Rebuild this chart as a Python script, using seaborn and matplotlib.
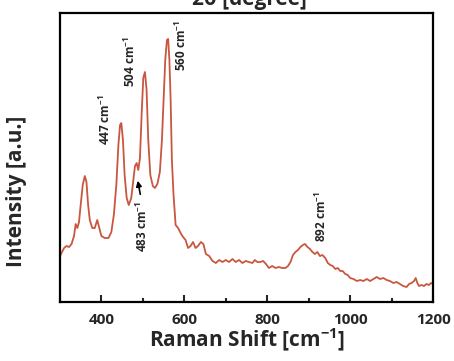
import matplotlib
matplotlib.use('Agg')
import matplotlib.pyplot as plt
import pandas as pd
import seaborn as sns
from matplotlib.ticker import MultipleLocator

# Raman shift (cm-1) and intensity (a.u.)
shift = [300, 305, 310, 316, 322, 328, 334, 338, 342, 346, 350, 355, 360, 364, 368,
         372, 378, 384, 390, 395, 400, 408, 417, 424, 430, 436, 441, 445, 448, 452,
         456, 461, 466, 472, 477, 481, 485, 489, 493, 497, 501, 505, 509, 513, 518,
         524, 529, 535, 541, 546, 550, 554, 558, 561, 564, 567, 570, 574, 579, 585,
         591, 597, 603, 609, 615, 621, 627, 633, 640, 646, 652, 660, 668, 676, 684,
         692, 700, 708, 716, 724, 732, 740, 748, 756, 764, 770, 776, 783, 790, 797,
         804, 812, 820, 828, 836, 844, 850, 856, 862, 868, 874, 880, 886, 891, 897,
         903, 909, 915, 921, 927, 933, 940, 946, 952, 958, 964, 970, 976, 982, 988,
         994, 1000, 1008, 1016, 1024, 1032, 1040, 1048, 1056, 1064, 1072, 1080, 1088,
         1096, 1104, 1112, 1120, 1128, 1136, 1142, 1148, 1154, 1158, 1162, 1166, 1172,
         1178, 1184, 1190, 1195, 1200]
intensity = [46, 50, 54, 56, 55, 58, 66, 78, 74, 80, 97, 117, 126, 120, 97,
             82, 74, 74, 82, 74, 66, 64, 64, 70, 87, 117, 157, 177, 179, 162,
             127, 104, 97, 104, 122, 136, 139, 132, 144, 187, 224, 230, 212, 162, 127,
             116, 114, 118, 130, 162, 202, 242, 262, 263, 242, 202, 142, 107, 77, 74,
             69, 65, 62, 54, 56, 60, 54, 56, 60, 58, 48, 46, 41, 39, 42,
             40, 42, 40, 43, 40, 42, 39, 41, 40, 39, 42, 40, 40, 41, 38,
             34, 36, 34, 35, 34, 34, 36, 40, 47, 50, 52, 55, 57, 58, 55,
             53, 50, 48, 50, 46, 47, 44, 39, 37, 36, 33, 34, 31, 31, 28,
             27, 24, 23, 21, 22, 21, 23, 21, 23, 25, 23, 24, 22,
             21, 19, 20, 18, 16, 15, 18, 19, 21, 24, 19, 16, 17,
             16, 18, 17, 19, 18]

# peak labels: text, x, y
peak_labels = ['447 cm$^{-1}$', '504 cm$^{-1}$', '560 cm$^{-1}$', '483 cm$^{-1}$', '892 cm$^{-1}$']
label_x = [409, 471, 592, 498, 930]
label_y = [182, 240, 256, 75, 85]

df = pd.DataFrame({'shift': shift, 'intensity': intensity})

sns.set_style('ticks')
plt.rcParams['font.family'] = ['Open Sans', 'DejaVu Sans']
plt.rcParams['mathtext.fontset'] = 'custom'
plt.rcParams['mathtext.rm'] = 'Open Sans'
plt.rcParams['mathtext.default'] = 'regular'

fig = plt.figure(figsize=(4.54, 3.61), dpi=100)
ax = fig.add_axes([0.132, 0.1634, 0.822, 0.8006])

sns.lineplot(data=df, x='shift', y='intensity', ax=ax, color='#c9563f', linewidth=1.3, sort=False)

ax.set_xlim(300, 1200)
ax.set_ylim(0, 289)
ax.set_yticks([])
ax.xaxis.set_major_locator(MultipleLocator(200))
ax.xaxis.set_minor_locator(MultipleLocator(100))
ax.tick_params(axis='x', which='major', direction='in', length=5, width=1.5, labelsize=11, pad=8)
ax.tick_params(axis='x', which='minor', direction='in', length=3, width=1.5)
for t in ax.get_xticklabels():
    t.set_fontweight('bold')
for sp in ax.spines.values():
    sp.set_linewidth(1.6)
    sp.set_color('black')

ax.set_xlabel('Raman Shift [cm$^{-1}$]', fontsize=15, fontweight='bold', labelpad=0)
ax.set_ylabel('')
fig.text(0.037, 0.47, 'Intensity [a.u.]', rotation=90, fontsize=15, fontweight='bold',
         ha='center', va='center')

# partly cut-off title at the top of the figure
fig.text(0.55, 1 - 5 / 361, '2θ [degree]', fontsize=15, fontweight='bold', ha='center', va='baseline')

for txt, x, y in zip(peak_labels, label_x, label_y):
    ax.text(x, y, txt, rotation=90, fontsize=8.5, fontweight='bold', ha='center', va='center')

ax.annotate('', xy=(486.5, 124), xytext=(495, 105),
            arrowprops=dict(arrowstyle='-|>', color='black', lw=1.2, mutation_scale=8))

fig.savefig('out.png', dpi=100)
